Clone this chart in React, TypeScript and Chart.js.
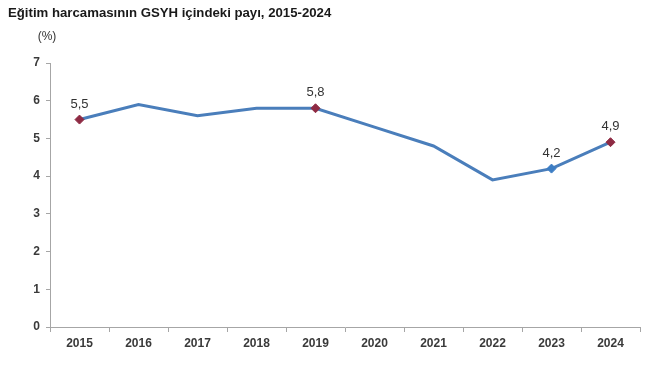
import React, { useEffect, useRef } from "react";
import { Chart, registerables } from "chart.js";

Chart.register(...registerables);

const TITLE = "Eğitim harcamasının GSYH içindeki payı, 2015-2024";
const UNIT = "(%)";
const YEARS = ["2015", "2016", "2017", "2018", "2019", "2020", "2021", "2022", "2023", "2024"];
const SHARE = [5.5, 5.9, 5.6, 5.8, 5.8, 5.3, 4.8, 3.9, 4.2, 4.9];
const LABELLED = [true, false, false, false, true, false, false, false, true, true];
const MARKER_COLORS = ["#8E2A43", null, null, null, "#8E2A43", null, null, null, "#3C7DC4", "#8E2A43"];

const FONT = "'Liberation Sans', Arial, sans-serif";

const textPlugin = {
  id: "textPlugin",
  afterDraw(chart: any) {
    const ctx = chart.ctx;
    ctx.save();
    ctx.fillStyle = "#1a1a1a";
    ctx.font = `bold 13.2px ${FONT}`;
    ctx.textBaseline = "middle";
    ctx.textAlign = "left";
    ctx.fillText(TITLE, 8, 13);
    ctx.fillStyle = "#333";
    ctx.font = `12px ${FONT}`;
    ctx.textAlign = "center";
    ctx.fillText(UNIT, 47, 37);
    const meta = chart.getDatasetMeta(0);
    ctx.textBaseline = "alphabetic";
    ctx.font = `13px ${FONT}`;
    meta.data.forEach((pt: any, i: number) => {
      if (!LABELLED[i]) return;
      ctx.fillText(SHARE[i].toFixed(1).replace(".", ","), pt.x, pt.y - 12);
    });
    ctx.restore();
  },
};

export default function App() {
  const ref = useRef<HTMLCanvasElement | null>(null);
  useEffect(() => {
    if (!ref.current) return;
    const chart = new Chart(ref.current, {
      type: "line",
      data: {
        labels: YEARS,
        datasets: [
          {
            data: SHARE,
            borderColor: "#4A7EBB",
            borderWidth: 3,
            tension: 0,
            pointStyle: "rectRot",
            pointRadius: MARKER_COLORS.map((c) => (c ? 4.5 : 0)),
            pointBackgroundColor: MARKER_COLORS.map((c) => c || "#4A7EBB"),
            pointBorderColor: MARKER_COLORS.map((c) => c || "#4A7EBB"),
            pointBorderWidth: 1,
          },
        ],
      },
      options: {
        animation: false,
        responsive: false,
        maintainAspectRatio: false,
        layout: { padding: { top: 63, left: 0, right: 11, bottom: 0 } },
        plugins: {
          legend: { display: false },
          title: { display: false },
          tooltip: { enabled: false },
        },
        scales: {
          x: {
            offset: true,
            afterFit: (s: any) => {
              s.height = 39;
            },
            border: { display: true, color: "#A6A6A6", width: 1 },
            grid: {
              display: true,
              drawOnChartArea: false,
              drawTicks: true,
              tickLength: 5,
              offset: true,
              color: "#A6A6A6",
            },
            ticks: {
              color: "#3a3a3a",
              font: { family: FONT, size: 12, weight: "bold" },
              padding: 4,
              maxRotation: 0,
            },
          },
          y: {
            min: 0,
            max: 7,
            afterFit: (s: any) => {
              s.width = 50;
            },
            border: { display: true, color: "#A6A6A6", width: 1 },
            grid: {
              display: true,
              drawOnChartArea: false,
              drawTicks: true,
              tickLength: 4,
              color: "#A6A6A6",
            },
            ticks: {
              stepSize: 1,
              color: "#3a3a3a",
              font: { family: FONT, size: 12, weight: "bold" },
              padding: 6,
            },
          },
        },
      },
      plugins: [textPlugin],
    });
    return () => chart.destroy();
  }, []);
  return (
    <div style={{ position: "fixed", left: 0, top: 0, width: 651, height: 366, background: "#fff" }}>
      <canvas ref={ref} width={651} height={366} style={{ display: "block" }} />
    </div>
  );
}
